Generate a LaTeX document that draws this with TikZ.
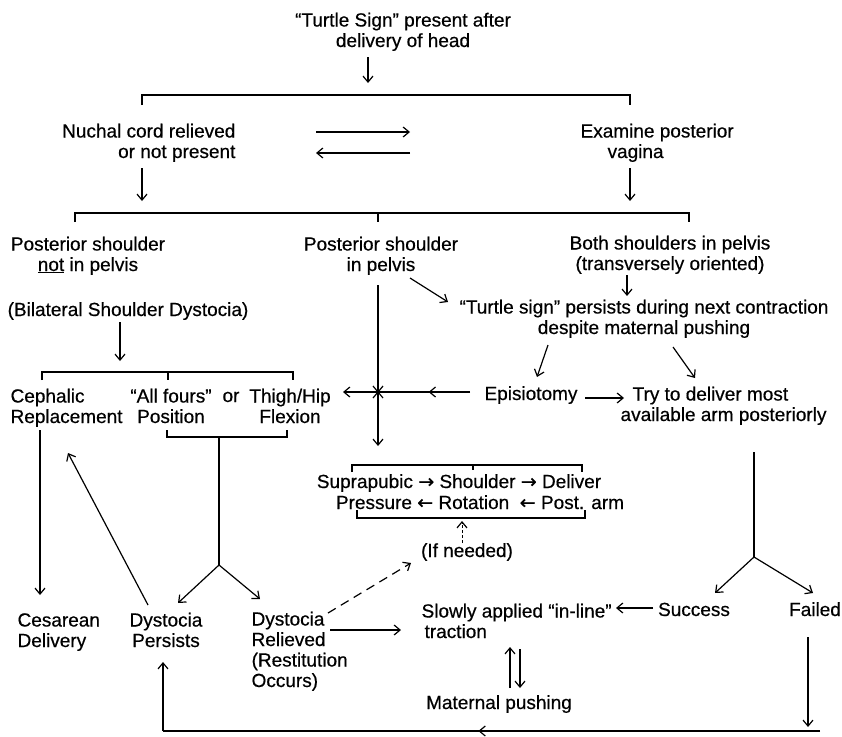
\documentclass[tikz,border=0pt]{standalone}
\usepackage{fontspec}
\setmainfont{Liberation Sans}[FakeBold=0.5]
\newfontfamily\arrfont{DejaVu Sans}[FakeBold=0.5]
\usetikzlibrary{arrows.meta,decorations.markings}
\newcommand{\rar}{{\arrfont\fontsize{19}{19}\selectfont →}}
\newcommand{\lar}{{\arrfont\fontsize{19}{19}\selectfont ←}}
\begin{document}
\begin{tikzpicture}[x=1pt,y=-1pt,line width=1.2pt,
  txt/.style={inner sep=0pt,font=\fontsize{19}{20.5}\selectfont},
  tip/.tip={Straight Barb[length=6pt,width=10pt,line width=1.2pt]},
  arr/.style={-tip},
  midarr/.style={postaction={decorate},decoration={markings,mark=at position #1 with {\arrow{tip}}}}]
\useasboundingbox (0,0) rectangle (842,736);
\fill[white] (0,0) rectangle (842,736);

% ---------- texts (anchor = baseline of last line) ----------
\node[txt,align=center,anchor=base] (top) at (403,47) {“Turtle Sign” present after\\delivery of head};
\node[txt,align=right,anchor=base east] (nuchal) at (236,158) {Nuchal cord relieved\\or not present};
\node[txt,align=left,anchor=base west] (exam) at (580,158) {Examine posterior\\\hspace*{27pt}vagina};
\node[txt,align=center,anchor=base] (psnot) at (88,271) {Posterior shoulder\\\underline{not} in pelvis};
\node[txt,align=center,anchor=base] (psin) at (381,271) {Posterior shoulder\\in pelvis};
\node[txt,align=center,anchor=base] (both) at (670,270) {Both shoulders in pelvis\\(transversely oriented)};
\node[txt,anchor=base] (bilat) at (128,316) {(Bilateral Shoulder Dystocia)};
\node[txt,align=center,anchor=base] (persist) at (644,334) {“Turtle sign” persists during next contraction\\despite maternal pushing};
\node[txt,align=left,anchor=base west] (ceph) at (10,423) {Cephalic\\Replacement};
\node[txt,align=center,anchor=base] (allf) at (171,423) {“All fours”\\Position};
\node[txt,anchor=base] (or) at (231,402) {or};
\node[txt,align=center,anchor=base] (thigh) at (290,423) {Thigh/Hip\\Flexion};
\node[txt,anchor=base] (epi) at (531,400) {Episiotomy};
\node[txt,align=left,anchor=base west] (try) at (620,421) {\hspace*{12pt}Try to deliver most\\available arm posteriorly};
\node[txt,anchor=base] (row1) at (459,488) {Suprapubic \rar\ Shoulder \rar\ Deliver};
\node[txt,anchor=base] (row2) at (480,509) {Pressure\ \lar\ Rotation\ \ \lar\ Post. arm};
\node[txt,anchor=base] (ifn) at (467,557) {(If needed)};
\node[txt,align=left,anchor=base west] (ces) at (17,647) {Cesarean\\Delivery};
\node[txt,align=center,anchor=base] (dp) at (166,647) {Dystocia\\Persists};
\node[txt,align=left,anchor=base west] (dr) at (251,687) {Dystocia\\Relieved\\(Restitution\\Occurs)};
\node[txt,align=left,anchor=base west] (slow) at (421,638) {Slowly applied “in-line”\\\hspace*{3pt}traction};
\node[txt,anchor=base] (succ) at (694,616) {Success};
\node[txt,anchor=base] (fail) at (815,616) {Failed};
\node[txt,anchor=base] (mat) at (499,709) {Maternal pushing};

% ---------- top part ----------
\draw[arr] (368,57) -- (368,83);
\draw (142,105) -- (142,95) -- (630,95) -- (630,105);
\draw[arr] (316,132) -- (410,132);
\draw[arr] (410,153) -- (316,153);
\draw[arr] (142,168) -- (142,201);
\draw[arr] (630,168) -- (630,201);
\draw (75,222) -- (75,213) -- (689,213) -- (689,222);
\draw (378,213) -- (378,222);

% ---------- middle ----------
\draw[arr] (410,278) -- (448,302);
\draw[arr] (627,275) -- (627,296);
\draw[arr] (120,322) -- (120,361);
\draw (42,380) -- (42,372) -- (293,372) -- (293,380);
\draw (168,372) -- (168,380);
\draw[arr] (548,345) -- (537,377);
\draw[arr] (673,347) -- (695,378);
\draw[arr] (585,398) -- (624,398);

\coordinate (cross) at (378,392);
\draw[arr] (378,285) -- (378,446);
\draw[midarr=0.45] (470,392) -- (cross);
\draw[arr] (cross) -- (343,392);
\draw (cross) ++(-5,-6) -- ++(10,12);
\draw (cross) ++(5,-6) -- ++(-10,12);

% bracket under Position / Flexion and split
\draw (167,430) -- (167,437) -- (287,437) -- (287,430);
\coordinate (sp1) at (219,565);
\draw (219,437) -- (sp1);
\draw[arr] (sp1) -- (178,603);
\draw[arr] (sp1) -- (260,599);

% suprapubic brackets
\draw (352,472) -- (352,465) -- (582,465) -- (582,472);
\draw (473,465) -- (473,470);
\draw (357,510) -- (357,518) -- (585,518) -- (585,510);
\draw[arr,line width=0.9pt,dash pattern=on 3pt off 2pt] (462,543) -- (462,521);

% right split
\coordinate (sp2) at (754,557);
\draw (754,452) -- (sp2);
\draw[arr] (sp2) -- (715,593);
\draw[arr] (sp2) -- (813,593);

% ---------- bottom ----------
\draw[arr] (40,430) -- (40,595);
\draw[arr] (148,605) -- (68,453);
\draw[arr,dash pattern=on 9pt off 6pt] (328,613) -- (411,563);
\draw[arr] (330,630) -- (401,630);
\draw[arr] (653,608) -- (616,608);
\draw[arr] (510,688) -- (510,647);
\draw[arr] (520,649) -- (520,688);
\draw[arr] (808,637) -- (808,727);
\draw[midarr=0.52] (820,731) -- (163,731);
\draw[arr] (163,731) -- (163,662);
\end{tikzpicture}
\end{document}
